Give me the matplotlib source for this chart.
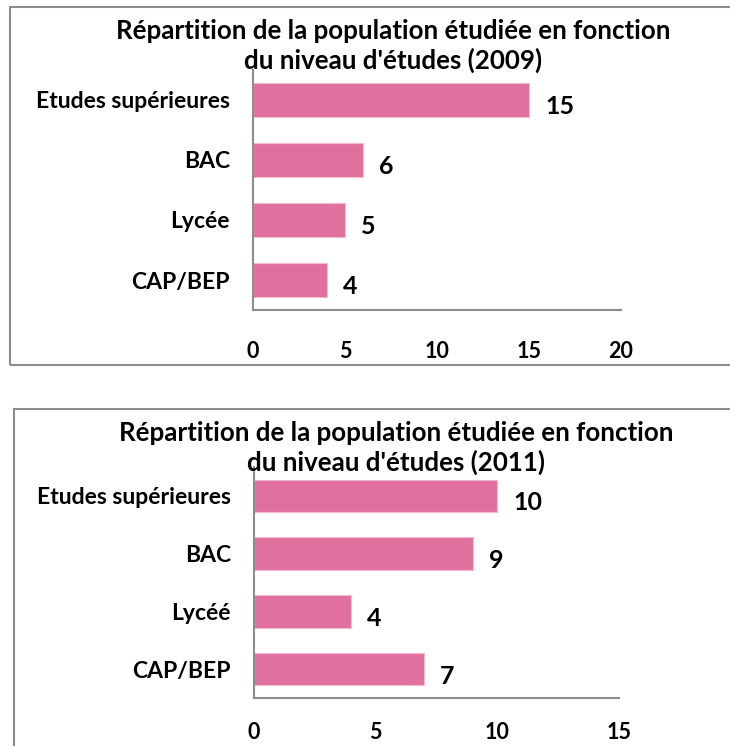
import matplotlib.pyplot as plt
from matplotlib.patches import Rectangle

categories = ['CAP/BEP', 'Lycée', 'BAC', 'Etudes supérieures']
categories_2011 = ['CAP/BEP', 'Lycéé', 'BAC', 'Etudes supérieures']
values_2009 = [4, 5, 6, 15]
values_2011 = [7, 4, 9, 10]
ticks_2009 = [0, 5, 10, 15, 20]
ticks_2011 = [0, 5, 10, 15]
title_2009 = "Répartition de la population étudiée en fonction\ndu niveau d'études (2009)"
title_2011 = "Répartition de la population étudiée en fonction\ndu niveau d'études (2011)"

bar_color = '#E0719E'
font = 'Lato'
W, H = 730, 746


def draw(ax, cats, vals, ticks, xmax, hbar, tickpad):
    ypos = range(len(cats))
    ax.barh(ypos, vals, height=hbar, color=bar_color, edgecolor='#F3B8CF', linewidth=0.8)
    ax.set_xlim(0, xmax)
    ax.set_ylim(-0.5, len(cats) - 0.5)
    ax.set_yticks(list(ypos))
    ax.set_yticklabels(cats, fontsize=16.5, fontweight='bold', family=font)
    ax.set_xticks(ticks)
    ax.set_xticklabels([str(t) for t in ticks], fontsize=15.5, fontweight='bold', family=font)
    ax.tick_params(axis='y', length=0, pad=16.5)
    ax.tick_params(axis='x', length=0, pad=tickpad)
    for s in ['top', 'right']:
        ax.spines[s].set_visible(False)
    for s in ['left', 'bottom']:
        ax.spines[s].set_color('#8C8C8C')
        ax.spines[s].set_linewidth(1.5)
    for y, v in zip(ypos, vals):
        ax.annotate(str(v), (v, y), xytext=(11.5, -5), textcoords='offset points',
                    ha='left', va='center', fontsize=18, fontweight='bold', family=font)


fig = plt.figure(figsize=(W / 100, H / 100), dpi=100)

# chart frames
fig.patches.append(Rectangle((10 / W, 1 - 365 / H), 740 / W, 358 / H, transform=fig.transFigure,
                             fill=False, edgecolor='#8C8C8C', linewidth=1.5))
fig.patches.append(Rectangle((14 / W, -0.05), 740 / W, 0.05 + 1 - 409 / H, transform=fig.transFigure,
                             fill=False, edgecolor='#8C8C8C', linewidth=1.5))

ax1 = fig.add_axes([253 / W, 1 - 310 / H, 368 / W, 240 / H])
draw(ax1, categories, values_2009, ticks_2009, 20, 0.57, 22)
fig.text(393 / W, 1 - 46 / H, title_2009, ha='center', va='center', fontsize=18.6,
         fontweight='bold', family=font, linespacing=1.25)

ax2 = fig.add_axes([254 / W, 1 - 698 / H, 365 / W, 231 / H])
draw(ax2, categories_2011, values_2011, ticks_2011, 15, 0.56, 17)
fig.text(396 / W, 1 - 448 / H, title_2011, ha='center', va='center', fontsize=18.6,
         fontweight='bold', family=font, linespacing=1.25)

fig.savefig('out.png', dpi=100)
